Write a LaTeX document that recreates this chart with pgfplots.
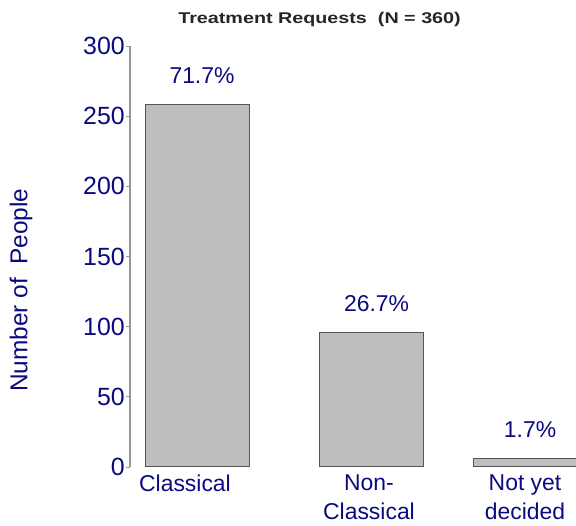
\documentclass[border=0pt]{standalone}
\usepackage{pgfplots}
\pgfplotsset{compat=1.18}
\usepackage{fontspec}
\setmainfont{Liberation Sans}
\definecolor{navy}{RGB}{10,10,128}
\definecolor{bargray}{RGB}{190,190,190}
\definecolor{baredge}{RGB}{85,85,85}
\definecolor{axgray}{RGB}{150,150,150}
\begin{document}
\begin{tikzpicture}[x=1bp,y=1bp]
\path[use as bounding box] (0,0) rectangle (576,526);
\begin{axis}[
  at={(130bp,59bp)}, anchor=south west,
  scale only axis, width=446bp, height=421bp,
  xmin=130, xmax=576, ymin=0, ymax=300,
  axis y line=left, axis x line=bottom,
  axis line style={-, draw=axgray, line width=1.2pt},
  x axis line style={draw=none},
  ytick={0,50,100,150,200,250,300},
  xtick={185,369,525},
  xticklabels={Classical, {Non-\\Classical}, {Not yet\\decided}},
  tick align=outside,
  major tick length=4bp,
  ytick style={draw=axgray, line width=0.8pt},
  xtick style={draw=none},
  /pgf/number format/assume math mode=true,
  yticklabel style={font=\fontsize{25}{25}\selectfont, text=navy, inner sep=0pt, xshift=-1bp},
  xticklabel style={font=\fontsize{23}{28.5}\selectfont, text=navy, align=center, anchor=north, inner sep=0pt, yshift=-4bp},
  ylabel={Number of \ People},
  ylabel style={font=\fontsize{24.5}{25}\selectfont, text=navy, at={(axis description cs:-0.244,0.42)}, anchor=center},
  title={\scalebox{1.27}[1]{\textbf{Treatment Requests \ (N = 360)}}},
  title style={font=\fontsize{15.6}{16}\selectfont, text=black!85, at={(axis description cs:0.425,1.048)}, anchor=center},
  ybar, bar width=104, bar shift=0pt,
  nodes near coords,
  point meta=explicit symbolic,
  every node near coord/.append style={font=\fontsize{23}{23}\selectfont, text=navy, anchor=base, inner sep=0pt, yshift=21bp, xshift=5bp},
  clip=true,
]
\addplot[fill=bargray, draw=baredge, line width=1pt] table[meta=lab] {
x y lab
197 258 71.7\%
371.5 96 26.7\%
525 6 1.7\%
};
\end{axis}
\end{tikzpicture}
\end{document}
